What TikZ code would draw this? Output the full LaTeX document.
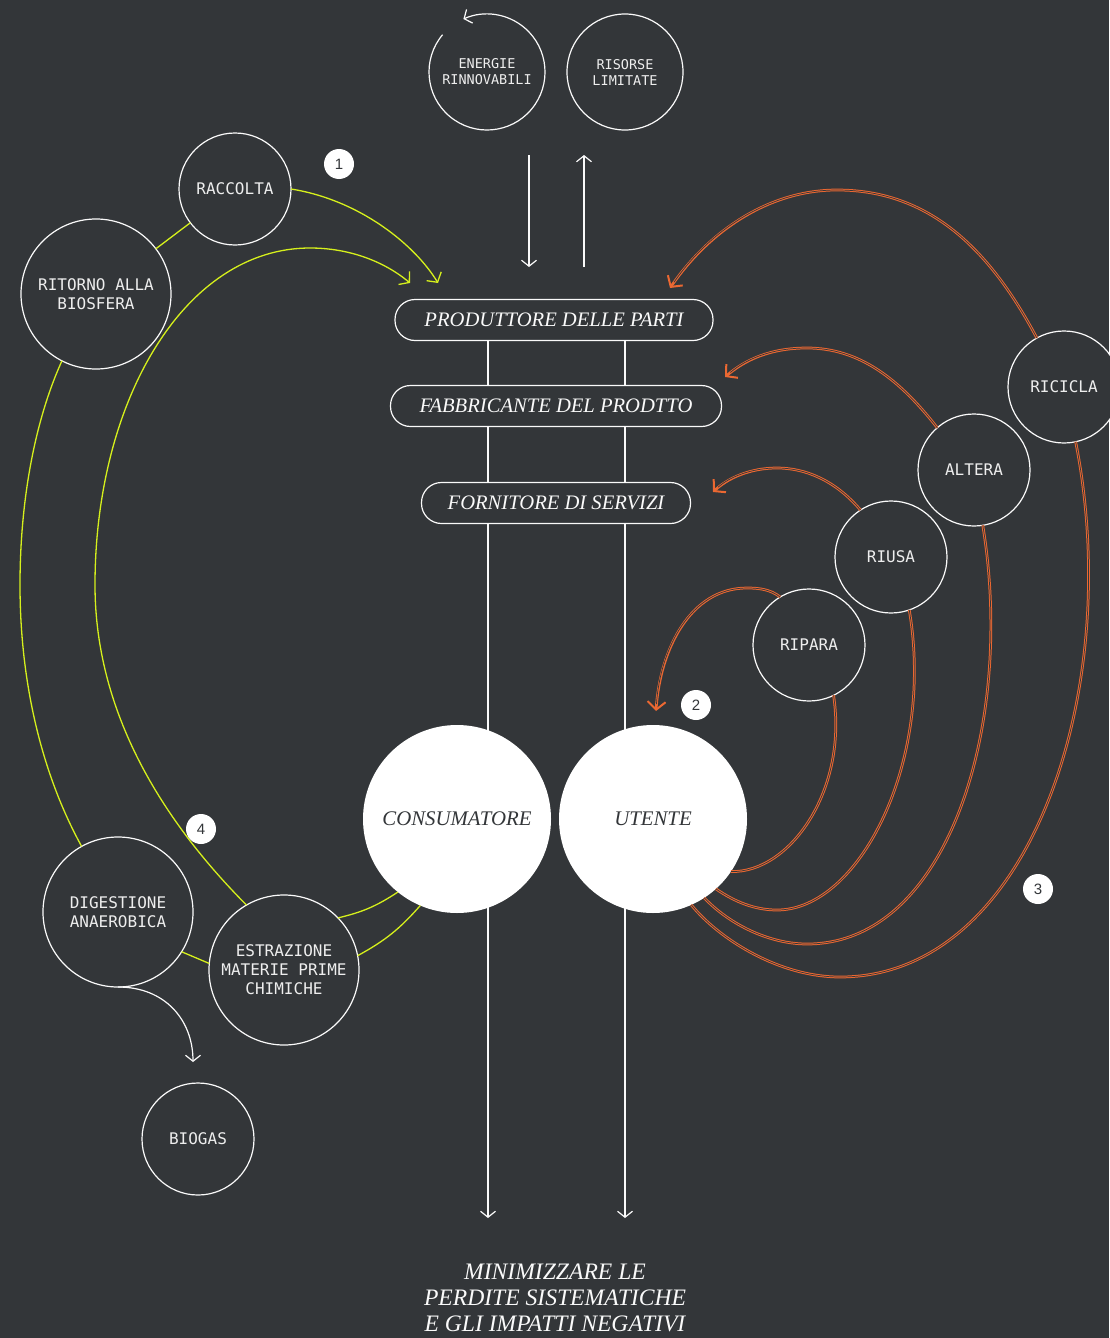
\documentclass[tikz,border=0pt]{standalone}
\usepackage{fontspec}
\setmainfont{Liberation Serif}
\newfontfamily\monofont{DejaVu Sans Mono}
\newfontfamily\numfont{Liberation Sans}
\usetikzlibrary{arrows.meta}
\definecolor{bgcol}{RGB}{51,54,57}
\definecolor{wcol}{RGB}{250,250,250}
\definecolor{tcol}{RGB}{238,238,238}
\definecolor{ycol}{RGB}{214,240,28}
\definecolor{ocol}{RGB}{235,104,50}
\begin{document}
\begin{tikzpicture}[x=1pt, y=1pt,
  ring/.style={circle, draw=wcol, line width=1.2pt, fill=bgcol, text=tcol, inner sep=0pt, outer sep=0pt, minimum size=112pt, align=center, font=\monofont\fontsize{16}{19}\selectfont},
  bigring/.style={ring, minimum size=150pt},
  topring/.style={ring, minimum size=116pt, font=\monofont\fontsize{13.5}{16}\selectfont},
  pill/.style={rectangle, rounded corners=20pt, draw=wcol, line width=1.2pt, fill=bgcol, text=wcol, minimum height=41pt, outer sep=0pt, font=\itshape\fontsize{20.6}{24}\selectfont},
  disc/.style={circle, fill=white, text=bgcol, minimum size=188pt, inner sep=0pt, outer sep=0pt, font=\itshape\fontsize{20.8}{24}\selectfont},
  badge/.style={circle, fill=white, text=bgcol, minimum size=30pt, inner sep=0pt, font=\numfont\fontsize{15}{15}\selectfont},
  wline/.style={draw=wcol, line width=1.2pt},
  warrow/.style={wline, -{Straight Barb[length=6pt, width=15pt]}},
  yline/.style={draw=ycol, line width=1.3pt},
  yarrow/.style={yline, -{Straight Barb[length=7pt, width=17pt]}},
  oline/.style={draw=ocol, line width=1pt, double=bgcol, double distance=0.7pt},
  oarrow/.style={draw=ocol, line width=2.7pt, -{Straight Barb[length=8pt, width=18pt, line width=2pt]}, postaction={draw=bgcol, line width=0.7pt, -, shorten >=7pt}}]
  \fill[bgcol, use as bounding box] (0,0) rectangle (1109,-1338);
  % Sources
  \node[topring, draw=none] (ener) at (487,-72) {ENERGIE\\RINNOVABILI};
  \draw[warrow] (ener.140) arc[start angle=140, end angle=474, radius=58];
  \node[topring] (ris) at (625,-72) {RISORSE\\LIMITATE};
  \coordinate (inA) at (529,-155);
  \coordinate (inB) at (529,-267);
  \coordinate (outA) at (584,-267);
  \coordinate (outB) at (584,-155);
  \draw[warrow] (inA) -- (inB);
  \draw[warrow] (outA) -- (outB);
  % Chain
  \node[pill, minimum width=318pt] (prod) at (554,-320) {PRODUTTORE DELLE PARTI};
  \node[pill, minimum width=331pt] (fabb) at (556,-406) {FABBRICANTE DEL PRODTTO};
  \node[pill, minimum width=269pt] (forn) at (556,-503) {FORNITORE DI SERVIZI};
  \coordinate (colL) at (488,0);
  \coordinate (colR) at (625,0);
  \coordinate (endL) at (488,-1218);
  \coordinate (endR) at (625,-1218);
  \draw[wline] (prod.south -| colL) -- (fabb.north -| colL);
  \draw[wline] (prod.south -| colR) -- (fabb.north -| colR);
  \draw[wline] (fabb.south -| colL) -- (forn.north -| colL);
  \draw[wline] (fabb.south -| colR) -- (forn.north -| colR);
  \draw[warrow] (forn.south -| colL) -- (endL);
  \draw[warrow] (forn.south -| colR) -- (endR);
  \node[disc] (cons) at (457,-819) {CONSUMATORE};
  \node[disc] (ute) at (653,-819) {UTENTE};
  % Biological cycle
  \node[ring] (racc) at (235,-189) {RACCOLTA};
  \node[bigring] (rit) at (96,-294) {RITORNO ALLA\\BIOSFERA};
  \node[bigring] (dig) at (118,-912) {DIGESTIONE\\ANAEROBICA};
  \node[bigring] (estr) at (284,-970) {ESTRAZIONE\\MATERIE PRIME\\CHIMICHE};
  \node[ring] (bio) at (198,-1139) {BIOGAS};
  \coordinate (yTipA) at (438,-283);
  \coordinate (yTipB) at (410,-283);
  \coordinate (bioTip) at (193,-1062);
  \draw[yline] (racc) -- (rit);
  \draw[yarrow] (racc.east) .. controls (360,-200) and (415,-245) .. (yTipA);
  \draw[yarrow] (estr.120) .. controls (150,-808) and (95,-700) .. (95,-585)
    .. controls (95,-400) and (185,-248) .. (310,-248)
    .. controls (350,-248) and (385,-262) .. (yTipB);
  \draw[yline] (rit.243) .. controls (35,-420) and (20,-500) .. (20,-585)
    .. controls (20,-690) and (45,-780) .. (dig.119);
  \draw[yline] (dig.-32) -- (estr.175);
  \draw[yline] (estr.44) to[bend right=10] (cons.231);
  \draw[yline] (estr.11) to[bend right=10] (cons.247);
  \draw[warrow] (dig.south) .. controls (165,-987) and (193,-1020) .. (bioTip);
  % Technical cycle
  \node[ring] (ric) at (1064,-387) {RICICLA};
  \node[ring] (alt) at (974,-470) {ALTERA};
  \node[ring] (riu) at (891,-557) {RIUSA};
  \node[ring] (rip) at (809,-645) {RIPARA};
  \coordinate (oTipA) at (670,-288);
  \coordinate (oTipB) at (725,-377);
  \coordinate (oTipC) at (713,-492);
  \coordinate (oTipD) at (656,-711);
  \draw[oarrow] (ric.119) .. controls (990,-250) and (930,-190) .. (837,-190)
    .. controls (770,-190) and (710,-230) .. (oTipA);
  \draw[oarrow] (alt.131) .. controls (900,-380) and (860,-348) .. (807,-348)
    .. controls (770,-348) and (745,-360) .. (oTipB);
  \draw[oarrow] (riu.123) .. controls (835,-480) and (805,-468) .. (777,-468)
    .. controls (750,-468) and (728,-478) .. (oTipC);
  \draw[oarrow] (rip.121) .. controls (770,-589) and (758,-588) .. (747,-588)
    .. controls (690,-588) and (660,-650) .. (oTipD);
  \draw[oline] (rip.-64) .. controls (848,-790) and (790,-873) .. (ute.-34);
  \draw[oline] (riu.-71) .. controls (935,-760) and (860,-910) .. (777,-910)
    .. controls (755,-910) and (735,-902) .. (ute.-48);
  \draw[oline] (alt.-81) .. controls (1015,-720) and (950,-944) .. (807,-944)
    .. controls (770,-944) and (730,-925) .. (ute.-57);
  \draw[oline] (ric.-78) .. controls (1125,-690) and (1030,-977) .. (840,-977)
    .. controls (780,-977) and (720,-940) .. (ute.-66);
  % Steps
  \node[badge] (n1) at (339,-164) {1};
  \node[badge] (n2) at (696,-705) {2};
  \node[badge] (n3) at (1038,-889) {3};
  \node[badge] (n4) at (201,-829) {4};
  \node[text=wcol, align=center, font=\itshape\fontsize{23.6}{26}\selectfont] (goal) at (555,-1298) {MINIMIZZARE LE\\PERDITE SISTEMATICHE\\E GLI IMPATTI NEGATIVI};
\end{tikzpicture}
\end{document}
